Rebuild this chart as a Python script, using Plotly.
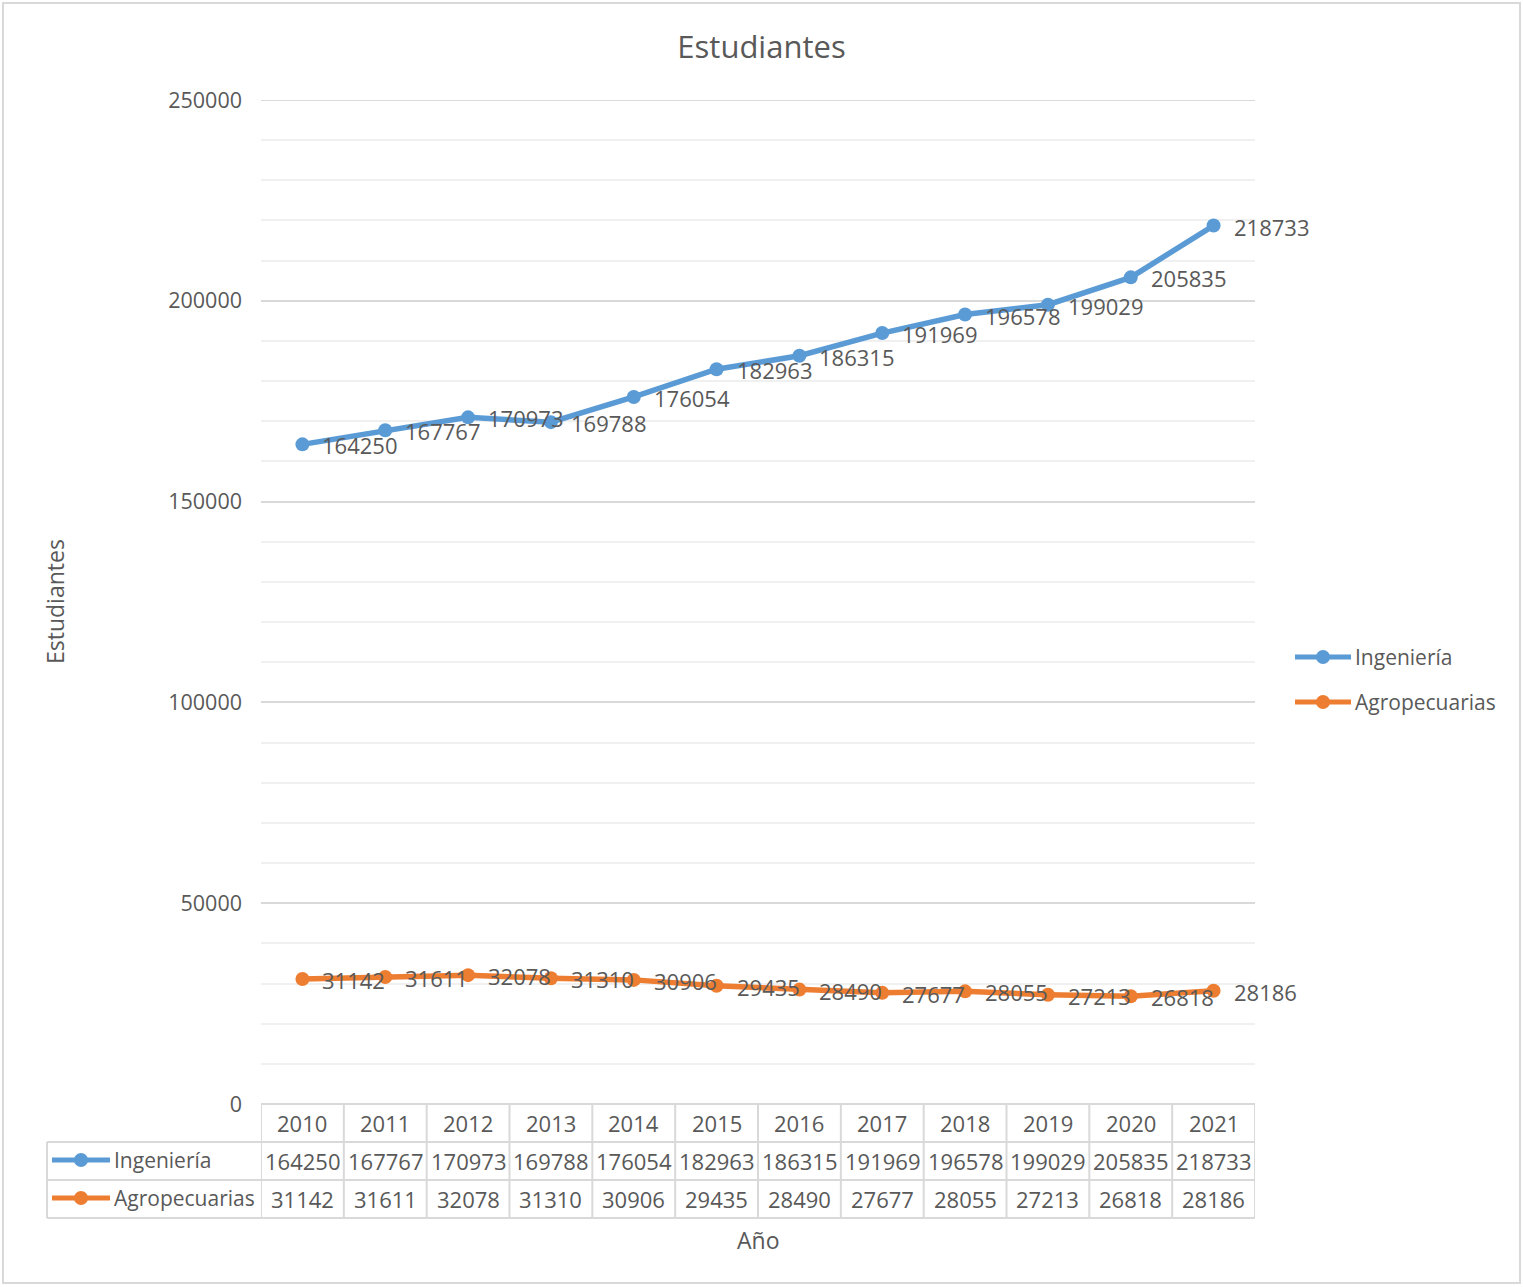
import plotly.graph_objects as go

years = ["2010", "2011", "2012", "2013", "2014", "2015", "2016", "2017", "2018", "2019", "2020", "2021"]
ingenieria = [164250, 167767, 170973, 169788, 176054, 182963, 186315, 191969, 196578, 199029, 205835, 218733]
agropecuarias = [31142, 31611, 32078, 31310, 30906, 29435, 28490, 27677, 28055, 27213, 26818, 28186]
series_names = ["Ingeniería", "Agropecuarias"]
series_values = [ingenieria, agropecuarias]
colors = ["#5B9BD5", "#ED7D31"]
y_ticks = [0, 50000, 100000, 150000, 200000, 250000]

W, H = 1523, 1287
L, R, T, B = 261, 1255, 100, 1104
FONT = "Open Sans"
TXT = "#595959"
BORDER = "#d9d9d9"
NUM_SIZE = 22
WORD_SIZE = 21


def px(x):
    return (x - L) / (R - L)


def py(y):
    return (B - y) / (B - T)


idx = list(range(len(years)))
fig = go.Figure()
for name, vals, col in zip(series_names, series_values, colors):
    fig.add_trace(go.Scatter(
        x=idx, y=vals, name=name, mode="lines+markers",
        line=dict(color=col, width=5.5), marker=dict(color=col, size=14),
        showlegend=False,
    ))

shapes = []
annotations = []

# top major gridline (at the range edge)
shapes.append(dict(type="line", xref="paper", yref="y", x0=0, x1=1, y0=y_ticks[-1], y1=y_ticks[-1],
                   line=dict(color=BORDER, width=2), layer="below"))

# data labels
for vals in series_values:
    for i, v in zip(idx, vals):
        annotations.append(dict(x=i, y=v, xref="x", yref="y", text=str(v), showarrow=False,
                                xanchor="left", yanchor="middle", xshift=18, yshift=-1,
                                font=dict(family=FONT, size=NUM_SIZE, color=TXT)))

# outer border
shapes.append(dict(type="rect", xref="paper", yref="paper", x0=px(3), x1=px(1520), y0=py(1283), y1=py(3),
                   line=dict(color=BORDER, width=2), layer="below"))

# data table lines
row_y = [1104, 1142, 1180, 1218]
shapes.append(dict(type="line", xref="paper", yref="paper", x0=px(L), x1=px(R), y0=py(1104), y1=py(1104),
                   line=dict(color=BORDER, width=2)))
for yy in row_y[1:]:
    shapes.append(dict(type="line", xref="paper", yref="paper", x0=px(47), x1=px(R), y0=py(yy), y1=py(yy),
                       line=dict(color=BORDER, width=2)))
shapes.append(dict(type="line", xref="paper", yref="paper", x0=px(47), x1=px(47), y0=py(1142), y1=py(1218),
                   line=dict(color=BORDER, width=2)))
for k in range(len(years) + 1):
    shapes.append(dict(type="line", xref="x", yref="paper", x0=k - 0.5, x1=k - 0.5, y0=py(1104), y1=py(1218),
                       line=dict(color=BORDER, width=2)))

# table text
for i, yr in zip(idx, years):
    annotations.append(dict(x=i, y=py(1123), xref="x", yref="paper", text=yr, showarrow=False,
                            xanchor="center", yanchor="middle", font=dict(family=FONT, size=NUM_SIZE, color=TXT)))
for r, vals in enumerate(series_values):
    yc = py(1161 + 38 * r)
    for i, v in zip(idx, vals):
        annotations.append(dict(x=i, y=yc, xref="x", yref="paper", text=str(v), showarrow=False,
                                xanchor="center", yanchor="middle", font=dict(family=FONT, size=NUM_SIZE, color=TXT)))


def legend_key(x0, x1, yc, col, name, text_x):
    shapes.append(dict(type="line", xref="paper", yref="paper", x0=px(x0), x1=px(x1), y0=py(yc), y1=py(yc),
                       line=dict(color=col, width=5)))
    cx = (x0 + x1) / 2
    shapes.append(dict(type="circle", xref="paper", yref="paper", x0=px(cx - 7), x1=px(cx + 7),
                       y0=py(yc + 7), y1=py(yc - 7), fillcolor=col, line=dict(color=col, width=0)))
    annotations.append(dict(x=px(text_x), y=py(yc), xref="paper", yref="paper", text=name, showarrow=False,
                            xanchor="left", yanchor="middle", font=dict(family=FONT, size=WORD_SIZE, color=TXT)))


for r, (name, col) in enumerate(zip(series_names, colors)):
    legend_key(52, 110, 1160 + 38 * r, col, name, 112)
    legend_key(1295, 1351, 657 + 45 * r, col, name, 1353)

# axis titles
annotations.append(dict(x=px(55), y=py(602), xref="paper", yref="paper", text="Estudiantes", textangle=-90,
                        showarrow=False, xanchor="center", yanchor="middle",
                        font=dict(family=FONT, size=23, color=TXT)))
annotations.append(dict(x=px(758), y=py(1240), xref="paper", yref="paper", text="Año",
                        showarrow=False, xanchor="center", yanchor="middle",
                        font=dict(family=FONT, size=23, color=TXT)))

fig.update_layout(
    width=W, height=H,
    margin=dict(l=L, r=W - R, t=T, b=H - B, autoexpand=False),
    paper_bgcolor="white", plot_bgcolor="white",
    title=dict(text="Estudiantes", x=0.5, xref="container", xanchor="center",
               y=1 - 47 / H, yref="container", yanchor="middle",
               font=dict(family=FONT, size=31, color=TXT)),
    showlegend=False,
    shapes=shapes, annotations=annotations,
    xaxis=dict(range=[-0.5, len(years) - 0.5], showgrid=False, showticklabels=False, zeroline=False,
               showline=False, ticks=""),
    yaxis=dict(range=[0, 250000], tickvals=y_ticks, ticktext=[str(v) for v in y_ticks],
               showgrid=True, gridcolor=BORDER, gridwidth=2, zeroline=False, showline=False,
               ticks="", ticklabelstandoff=18,
               tickfont=dict(family=FONT, size=NUM_SIZE - 0.5, color=TXT),
               minor=dict(dtick=10000, tick0=0, showgrid=True, gridcolor="#f0f0f0", gridwidth=2, ticks="")),
    font=dict(family=FONT, color=TXT),
)

fig.write_html("out.html", config={"displayModeBar": False},
               post_script="document.body.style.margin='0';document.body.style.overflow='hidden';")
